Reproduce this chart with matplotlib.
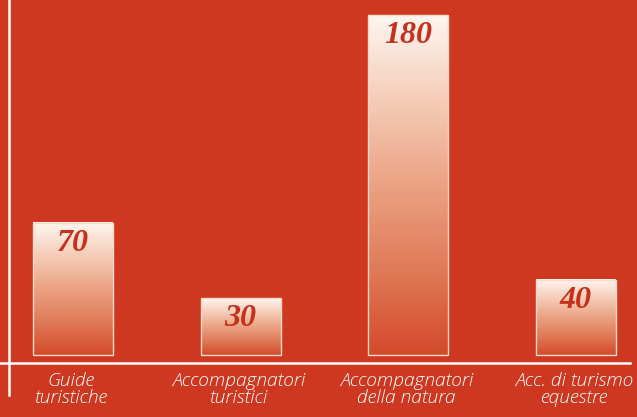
import numpy as np
import matplotlib
matplotlib.use("Agg")
import matplotlib.pyplot as plt
from matplotlib.colors import LinearSegmentedColormap

categories = ["Guide\nturistiche", "Accompagnatori\nturistici",
              "Accompagnatori\ndella natura", "Acc. di turismo\nequestre"]
values = [70, 30, 180, 40]

BG = "#CF3820"
fig = plt.figure(figsize=(6.37, 4.17), dpi=100, facecolor=BG)
ax = fig.add_axes([0, 0, 1, 1])
ax.set_facecolor(BG)

# pixel mapping: centers 73 + 167.5*i ; baseline y=355 px from top, 1.887 px/unit
ax.set_xlim(-73 / 167.5, (637 - 73) / 167.5)
ax.set_ylim(-62 / 1.887, (417 - 62) / 1.887)

cmap = LinearSegmentedColormap.from_list(
    "grad", ["#D44A2A", "#E07A58", "#EBA283", "#F5CDB8", "#FEF6F0"])
grad = np.linspace(0, 1, 256).reshape(-1, 1)

x = np.arange(len(values))
width = 80 / 167.5
bars = ax.bar(x, values, width=width, facecolor="none",
              edgecolor="#F9D9CB", linewidth=1.0, zorder=3)
for b, v in zip(bars, values):
    x0 = b.get_x()
    ax.imshow(grad, cmap=cmap, origin="lower", aspect="auto",
              extent=[x0, x0 + b.get_width(), 0, v], zorder=2,
              interpolation="bicubic")
    ax.text(b.get_x() + b.get_width() / 2, v - 20.5 / 1.887, str(v),
            ha="center", va="center", fontsize=23, fontweight="bold",
            fontstyle="italic", family="Liberation Serif", color="#C8301C",
            zorder=4)

ax.set_xticks([])
ax.set_yticks([])
for s in ["top", "right"]:
    ax.spines[s].set_visible(False)
ax.spines["left"].set_position(("data", -73 / 167.5 + 9 / 167.5))
ax.spines["left"].set_bounds(-62 / 1.887 + 22 / 1.887, 200)
ax.spines["bottom"].set_position(("data", -8 / 1.887))
ax.spines["bottom"].set_bounds(-1, (630 - 73) / 167.5)
for s in ["left", "bottom"]:
    ax.spines[s].set_color("white")
    ax.spines[s].set_linewidth(1.8)

for xi, lab in zip(x, categories):
    ax.text(xi - 0.01, -17 / 1.887, lab, ha="center", va="top", fontsize=13.8,
            fontstyle="italic", fontweight="light", family="Open Sans",
            color="white", linespacing=0.92)

fig.savefig("out.png", dpi=100, facecolor=BG)
